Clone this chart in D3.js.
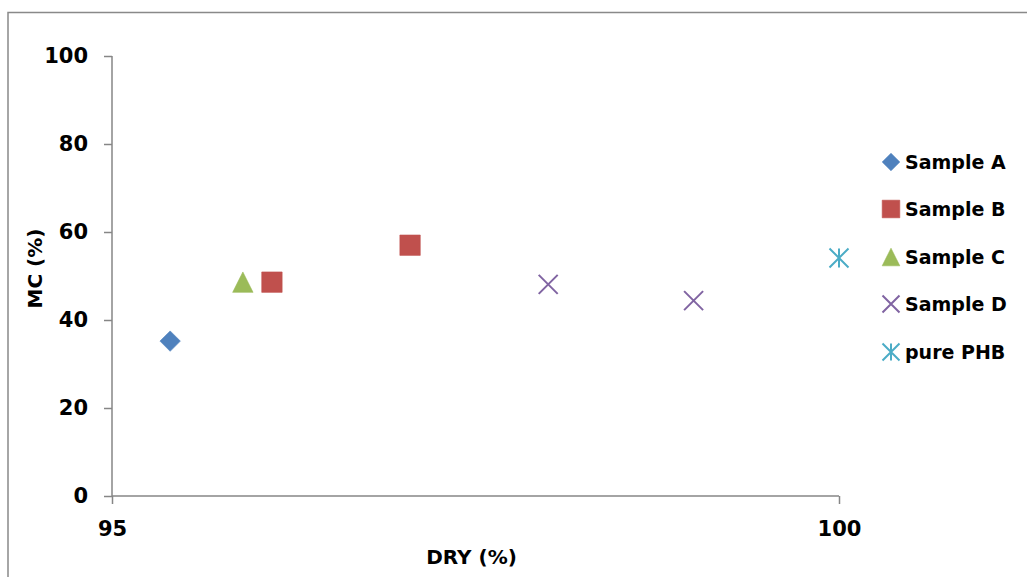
<!DOCTYPE html>
<html>
<head>
<meta charset="utf-8">
<script src="https://cdn.jsdelivr.net/npm/d3@7"></script>
<style>
  html, body { margin: 0; padding: 0; background: #fff; }
  svg { display: block; }
  text { font-family: "DejaVu Sans", sans-serif; font-weight: bold; fill: #000; }
</style>
</head>
<body>
<svg id="chart" width="1027" height="577"></svg>
<script>
// Moisture content (MC) versus dry matter (DRY) for each sample
const seriesNames = ["Sample A", "Sample B", "Sample C", "Sample D", "pure PHB"];
const sampleA = [[95.4, 35.2]];
const sampleB = [[96.1, 48.6], [97.05, 57.0]];
const sampleC = [[95.9, 48.6]];
const sampleD = [[98.0, 48.1], [99.0, 44.4]];
const purePHB = [[100.0, 54.1]];
const xTicks = [95, 100];
const yTicks = [0, 20, 40, 60, 80, 100];
const xLabel = "DRY (%)";
const yLabel = "MC (%)";

const seriesData = [sampleA, sampleB, sampleC, sampleD, purePHB];
const colors = ["#4F81BD", "#C0504D", "#9BBB59", "#8064A2", "#4BACC6"];

// Marker shapes; size is the half-width of the marker in px
const diamond = { draw(ctx, r) { ctx.moveTo(0, -r); ctx.lineTo(r, 0); ctx.lineTo(0, r); ctx.lineTo(-r, 0); ctx.closePath(); } };
const square = { draw(ctx, r) { ctx.rect(-r, -r, 2 * r, 2 * r); } };
const triangle = { draw(ctx, r) { ctx.moveTo(0, -r); ctx.lineTo(r, r); ctx.lineTo(-r, r); ctx.closePath(); } };
const cross = { draw(ctx, r) { ctx.moveTo(-r, -r); ctx.lineTo(r, r); ctx.moveTo(r, -r); ctx.lineTo(-r, r); } };
const star = { draw(ctx, r) { ctx.moveTo(-r, -r); ctx.lineTo(r, r); ctx.moveTo(r, -r); ctx.lineTo(-r, r); ctx.moveTo(0, -r); ctx.lineTo(0, r); } };
const shapes = [diamond, square, triangle, cross, star];
const filled = [true, true, true, false, false];

const svg = d3.select("#chart");

// Chart frame
svg.append("rect")
  .attr("x", 8).attr("y", 12.5)
  .attr("width", 1040).attr("height", 600)
  .attr("fill", "none").attr("stroke", "#898989").attr("stroke-width", 1.5);

const x = d3.scaleLinear().domain([95, 100]).range([112, 839]);
const y = d3.scaleLinear().domain([0, 100]).range([496, 56]);

const axisColor = "#868686";

// Y axis
const gy = svg.append("g").attr("transform", `translate(${x(95)},0)`)
  .call(d3.axisLeft(y).tickValues(yTicks).tickSize(8).tickPadding(16).tickFormat(d3.format("d")));
// X axis
const gx = svg.append("g").attr("transform", `translate(0,${y(0)})`)
  .call(d3.axisBottom(x).tickValues(xTicks).tickSize(8).tickPadding(17).tickFormat(d3.format("d")));

[gx, gy].forEach(g => {
  g.select(".domain").attr("stroke", axisColor).attr("stroke-width", 1.5);
  g.selectAll(".tick line").attr("stroke", axisColor).attr("stroke-width", 1.5);
  g.selectAll(".tick text").style("font-family", "'DejaVu Sans', sans-serif")
    .style("font-weight", "bold").style("font-size", "21px").attr("fill", "#000");
});
gy.select(".domain").attr("d", `M0,${y(100)}V${y(0)}`);
gx.select(".domain").attr("d", `M${x(95)},0H${x(100)}`);

// Axis titles
svg.append("text")
  .attr("x", 471.5).attr("y", 564)
  .attr("text-anchor", "middle").style("font-size", "20px")
  .text(xLabel);
svg.append("text")
  .attr("transform", "translate(42,268.5) rotate(-90)")
  .attr("text-anchor", "middle").style("font-size", "20px")
  .text(yLabel);

// Points
const plot = svg.append("g");
seriesData.forEach((pts, i) => {
  plot.selectAll(null).data(pts).enter().append("path")
    .attr("transform", d => `translate(${x(d[0])},${y(d[1])})`)
    .attr("d", d3.symbol().type(shapes[i]).size(i >= 3 ? 9.5 : 10.2))
    .attr("fill", filled[i] ? colors[i] : "none")
    .attr("stroke", colors[i])
    .attr("stroke-width", filled[i] ? 0.6 : 2);
});

// Legend
const legendRows = [162, 209, 257, 304, 352];
const legend = svg.append("g");
seriesNames.forEach((name, i) => {
  legend.append("path")
    .attr("transform", `translate(891,${legendRows[i]})`)
    .attr("d", d3.symbol().type(shapes[i]).size(i >= 3 ? 8.5 : 8.8))
    .attr("fill", filled[i] ? colors[i] : "none")
    .attr("stroke", colors[i])
    .attr("stroke-width", filled[i] ? 0.6 : 2);
  legend.append("text")
    .attr("x", 905).attr("y", legendRows[i])
    .attr("dy", "0.36em")
    .style("font-size", "19px")
    .text(name);
});
</script>
</body>
</html>
